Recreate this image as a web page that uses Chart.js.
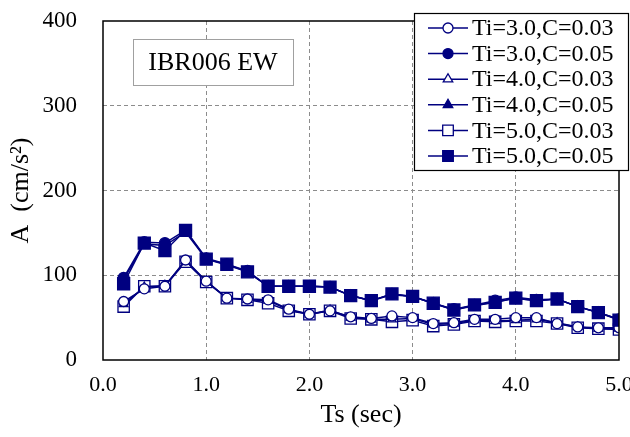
<!DOCTYPE html>
<html>
<head>
<meta charset="utf-8">
<script src="https://cdn.jsdelivr.net/npm/chart.js@4.4.1/dist/chart.umd.min.js"></script>
<style>
  html, body { margin: 0; padding: 0; background: #fff; }
  #wrap { width: 630px; height: 437px; position: relative; }
</style>
</head>
<body>
<div id="wrap"><canvas id="chart"></canvas></div>
<script>
// periods Ts (sec)
var ts = [0.2, 0.4, 0.6, 0.8, 1.0, 1.2, 1.4, 1.6, 1.8, 2.0, 2.2, 2.4, 2.6,
          2.8, 3.0, 3.2, 3.4, 3.6, 3.8, 4.0, 4.2, 4.4, 4.6, 4.8, 5.0];

// A (cm/s2) for each Ti / C combination
var ti3c03 = [69, 84, 87, 118, 93, 73, 72, 71, 60, 54, 58, 51, 49, 52, 50, 43, 44, 48, 48, 50, 50, 43, 39, 38, 38];
var ti3c05 = [97, 139, 138, 153, 120, 113, 105, 87, 87, 87, 86, 76, 70, 78, 75, 67, 60, 65, 70, 74, 71, 72, 63, 56, 48];
var ti4c03 = [66, 86, 88, 117, 93, 73, 71, 70, 59, 54, 59, 50, 48, 48, 49, 42, 43, 47, 46, 47, 48, 44, 39, 37, 37];
var ti4c05 = [95, 137, 135, 151, 119, 112, 104, 87, 87, 87, 86, 76, 70, 77, 75, 67, 59, 64, 68, 73, 70, 72, 63, 56, 48];
var ti5c03 = [63, 87, 87, 116, 92, 73, 71, 67, 58, 54, 58, 49, 48, 45, 47, 40, 42, 46, 45, 46, 46, 43, 38, 37, 36];
var ti5c05 = [90, 138, 129, 153, 119, 113, 104, 87, 87, 87, 86, 76, 70, 78, 75, 67, 59, 65, 68, 73, 70, 72, 63, 56, 47];

var seriesLabels = ['Ti=3.0,C=0.03', 'Ti=3.0,C=0.05', 'Ti=4.0,C=0.03',
                    'Ti=4.0,C=0.05', 'Ti=5.0,C=0.03', 'Ti=5.0,C=0.05'];
var xTicks = [0, 1, 2, 3, 4, 5];
var yTicks = [0, 100, 200, 300, 400];
var stationLabel = 'IBR006 EW';

var NAVY = '#000080';
var FONT = "'Liberation Serif', 'Times New Roman', serif";

function toPoints(vals) {
    return ts.map(function(t, i) {
        return { x: t, y: vals[i] };
    });
}

function makeSet(label, vals, style, filled, radius, order) {
    return {
        label: label,
        data: toPoints(vals),
        showLine: true,
        order: order,
        borderColor: NAVY,
        borderWidth: 1.5,
        pointStyle: style,
        pointRadius: radius,
        pointBorderColor: NAVY,
        pointBorderWidth: 1.3,
        pointBackgroundColor: filled ? NAVY : '#ffffff'
    };
}

// filled squares on top; open circles/triangles sit inside the open squares
var datasets = [
    makeSet(seriesLabels[0], ti3c03, 'circle', false, 5, 1),
    makeSet(seriesLabels[1], ti3c05, 'circle', true, 5.5, 4),
    makeSet(seriesLabels[2], ti4c03, 'triangle', false, 5, 2),
    makeSet(seriesLabels[3], ti4c05, 'triangle', true, 5.5, 5),
    makeSet(seriesLabels[4], ti5c03, 'rect', false, 8, 3),
    makeSet(seriesLabels[5], ti5c05, 'rect', true, 8.5, 0)
];

var legendRadius = { circle: 5, triangle: 5.5, rect: 7.5 };

// frame, station label and legend box
var overlay = {
    id: 'overlay',
    afterDraw: function(chart) {
        var ctx = chart.ctx;
        var a = chart.chartArea;
        ctx.save();

        // plot frame
        ctx.strokeStyle = '#000';
        ctx.lineWidth = 1.5;
        ctx.strokeRect(a.left, a.top, a.right - a.left, a.bottom - a.top);

        // station box
        ctx.fillStyle = '#fff';
        ctx.fillRect(133, 39, 160, 46);
        ctx.strokeStyle = '#a0a0a0';
        ctx.lineWidth = 1;
        ctx.strokeRect(133.5, 39.5, 160, 46);
        ctx.fillStyle = '#000';
        ctx.font = '26px ' + FONT;
        ctx.textAlign = 'center';
        ctx.textBaseline = 'middle';
        ctx.fillText(stationLabel, 213, 63);

        // legend box
        var lx = 414, ly = 13, lw = 214, lh = 157;
        ctx.fillStyle = '#fff';
        ctx.fillRect(lx, ly, lw, lh);
        ctx.strokeStyle = '#000';
        ctx.lineWidth = 1.2;
        ctx.strokeRect(lx + 0.5, ly + 0.5, lw, lh);

        ctx.font = '24px ' + FONT;
        ctx.textAlign = 'left';
        ctx.textBaseline = 'middle';
        datasets.forEach(function(ds, i) {
            var y = 28 + i * 25.6;
            ctx.strokeStyle = NAVY;
            ctx.lineWidth = 1.5;
            ctx.beginPath();
            ctx.moveTo(428, y);
            ctx.lineTo(468, y);
            ctx.stroke();
            ctx.fillStyle = ds.pointBackgroundColor;
            ctx.lineWidth = 1.3;
            Chart.helpers.drawPoint(ctx, {
                pointStyle: ds.pointStyle,
                radius: legendRadius[ds.pointStyle],
                rotation: 0,
                borderWidth: 1.3
            }, 448, y);
            ctx.fillStyle = '#000';
            ctx.fillText(ds.label, 472, y + 1);
        });

        ctx.restore();
    }
};

function gridColor(ctx) {
    var v = ctx.tick ? ctx.tick.value : null;
    var scale = ctx.scale;
    if (v === scale.min || v === scale.max) {
        return 'rgba(0,0,0,0)';
    }
    return '#8c8c8c';
}

new Chart(document.getElementById('chart'), {
    type: 'scatter',
    data: { datasets: datasets },
    options: {
        responsive: true,
        maintainAspectRatio: false,
        animation: false,
        layout: { padding: { top: 21, right: 11, bottom: 0, left: 0 } },
        plugins: {
            legend: { display: false },
            tooltip: { enabled: false }
        },
        scales: {
            x: {
                type: 'linear',
                min: xTicks[0],
                max: xTicks[xTicks.length - 1],
                afterBuildTicks: function(scale) {
                    scale.ticks = xTicks.map(function(v) { return { value: v }; });
                },
                afterFit: function(scale) {
                    scale.height = 77;
                    scale.paddingLeft = 0;
                    scale.paddingRight = 0;
                },
                grid: { color: gridColor, lineWidth: 1, drawTicks: false },
                border: { display: false, dash: [4, 3] },
                ticks: {
                    color: '#000',
                    font: { family: FONT, size: 22 },
                    padding: 12,
                    maxRotation: 0,
                    callback: function(v) { return Number(v).toFixed(1); }
                },
                title: {
                    display: true,
                    text: 'Ts (sec)',
                    color: '#000',
                    font: { family: FONT, size: 26 },
                    padding: { top: 0, bottom: 6 }
                }
            },
            y: {
                min: yTicks[0],
                max: yTicks[yTicks.length - 1],
                afterBuildTicks: function(scale) {
                    scale.ticks = yTicks.map(function(v) { return { value: v }; });
                },
                afterFit: function(scale) {
                    scale.width = 103;
                    scale.paddingTop = 0;
                    scale.paddingBottom = 0;
                },
                grid: { color: gridColor, lineWidth: 1, drawTicks: false },
                border: { display: false, dash: [4, 3] },
                ticks: {
                    color: '#000',
                    font: { family: FONT, size: 23 },
                    padding: 26
                },
                title: {
                    display: true,
                    text: 'A  (cm/s\u00B2)',
                    color: '#000',
                    font: { family: FONT, size: 26 },
                    padding: { top: 6, bottom: 0 }
                }
            }
        }
    },
    plugins: [overlay]
});
</script>
</body>
</html>
